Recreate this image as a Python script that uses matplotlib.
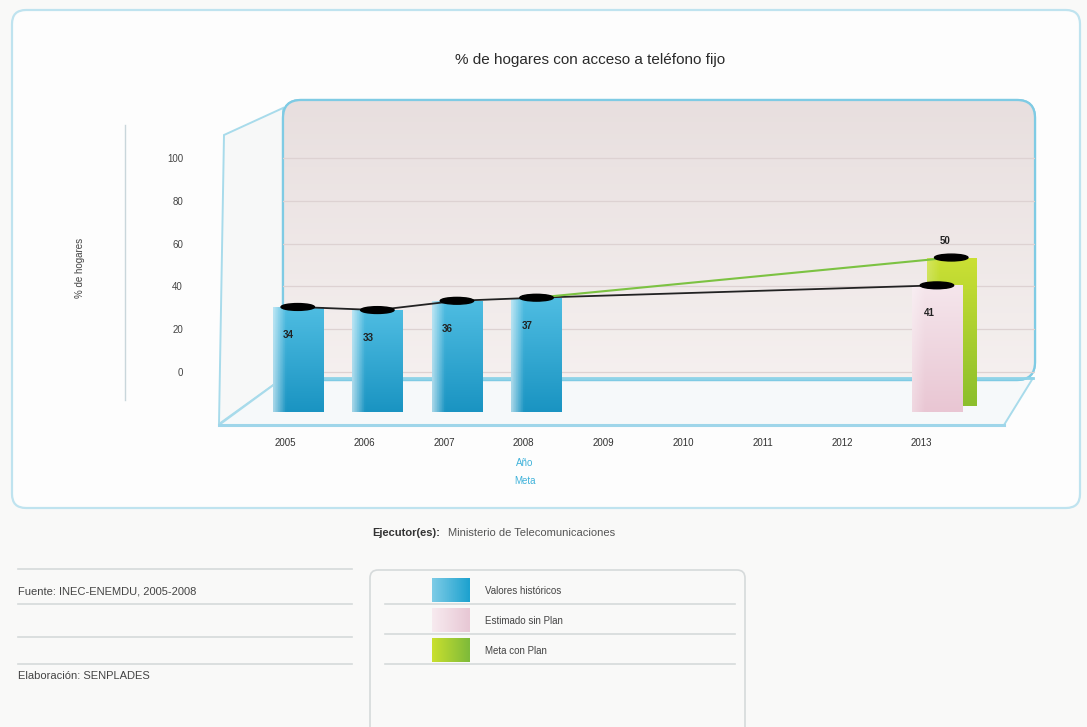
import numpy as np
import matplotlib.pyplot as plt
from matplotlib.patches import FancyBboxPatch, Polygon, Ellipse, Rectangle
from matplotlib.colors import to_rgb

plt.rcParams['font.family'] = ['Liberation Sans Narrow', 'Liberation Sans', 'DejaVu Sans']

# Datos
anios = ['2005', '2006', '2007', '2008', '2009', '2010', '2011', '2012', '2013']
historicos = [34, 33, 36, 37]
estimado_2013 = 41
meta_2013 = 50
ticks_pared = [0, 20, 40, 60, 80, 100]

W, H = 1087, 727
fig = plt.figure(figsize=(W / 100, H / 100), dpi=100)
fig.patch.set_facecolor('#f9f9f8')


def px_axes(x0, y0, x1, y1, z):
    ax = fig.add_axes([x0 / W, 1 - y1 / H, (x1 - x0) / W, (y1 - y0) / H])
    ax.set_zorder(z)
    ax.patch.set_alpha(0)
    return ax


def gradient_fill(ax, x0, x1, y0, y1, c_top, c_bot, clip, light=0.55, z=2):
    # y0 = base, y1 = tope
    n = 60
    top, bot = np.array(to_rgb(c_top)), np.array(to_rgb(c_bot))
    t = np.linspace(0, 1, n)[:, None, None]
    img = top * (1 - t) + bot * t
    img = np.repeat(img, 30, axis=1)
    # borde izquierdo mas claro (efecto 3D)
    f = np.clip(1 - np.linspace(0, 1, 30) / 0.25, 0, 1)[None, :, None] * light
    img = img * (1 - f) + f
    im = ax.imshow(img, extent=(x0, x1, y0, y1), origin='upper', aspect='auto', zorder=z)
    im.set_clip_path(clip)


# --- capa de fondo en pixeles ---
bg = fig.add_axes([0, 0, 1, 1])
bg.set_xlim(0, W)
bg.set_ylim(H, 0)
bg.axis('off')
bg.set_zorder(0)

panel = FancyBboxPatch((12, 10), 1068, 498, boxstyle='round,pad=0,rounding_size=14',
                       fc='#fdfdfd', ec='#bfe3ef', lw=1.6)
bg.add_patch(panel)

# pared lateral y piso
bg.add_patch(Polygon([(283, 108), (224, 135), (219, 424), (283, 378)], closed=True,
                     fc='#f7f8f8', ec='#a8dbeb', lw=1.4))
bg.add_patch(Polygon([(283, 378), (1033, 378), (1004, 425), (219, 425)], closed=True,
                     fc='#f6f9fa', ec='#a8dbeb', lw=1.4))
bg.plot([219, 1004], [425, 425], color='#9fd6ea', lw=2.2)

# pared del fondo
pared = FancyBboxPatch((283, 100), 752, 280, boxstyle='round,pad=0,rounding_size=18',
                       fc='#eee6e6', ec='#7fcbe4', lw=1.6)
bg.add_patch(pared)
grad = np.linspace(0, 1, 50)[:, None, None]
img = np.array(to_rgb('#e8dfdf')) * (1 - grad) + np.array(to_rgb('#f5f0ef')) * grad
im = bg.imshow(np.repeat(img, 2, axis=1), extent=(283, 1035, 380, 100), aspect='auto', zorder=1)
im.set_clip_path(pared)
bg.add_patch(FancyBboxPatch((283, 100), 752, 280, boxstyle='round,pad=0,rounding_size=18',
                            fc='none', ec='#7fcbe4', lw=1.6, zorder=2))
bg.plot([283, 1033], [378, 378], color='#8fd3e8', lw=2, zorder=2)

# linea vertical del eje y
bg.plot([125, 125], [125, 400], color='#c9d6db', lw=1)

bg.text(590, 60, '% de hogares con acceso a teléfono fijo', ha='center', va='center',
        fontsize=11, family=['Liberation Sans', 'DejaVu Sans'], color='#2a2a2a')
bg.text(80, 268, '% de hogares', rotation=90, ha='center', va='center', fontsize=7, color='#444444')
bg.text(525, 463, 'Año', ha='center', va='center', fontsize=7, color='#3fb2da')
bg.text(525, 481, 'Meta', ha='center', va='center', fontsize=7, color='#3fb2da')

# --- pared: escala del eje y ---
axw = px_axes(283, 100, 1035, 380, 1)
axw.set_ylim((372 - 380) / 2.14, (372 - 100) / 2.14)
axw.set_xlim(0, 1)
axw.set_yticks(ticks_pared)
axw.set_xticks([])
axw.tick_params(axis='y', length=0, pad=72, labelsize=7, labelcolor='#444444')
axw.yaxis.grid(True, color='#ddd2d2', lw=0.9)
for s in axw.spines.values():
    s.set_visible(False)

# --- barras ---
ax = px_axes(225, 100, 1030, 412, 2)
ax.set_ylim(0, 101)
ax.set_xlim((225 - 285) / 79.6, (1030 - 285) / 79.6)
for s in ax.spines.values():
    s.set_visible(False)
ax.set_yticks([])
ax.set_xticks(range(len(anios)))
ax.set_xticklabels(anios)
ax.tick_params(axis='x', length=0, pad=19, labelsize=7, labelcolor='#333333')

x_hist = np.arange(len(historicos)) + 0.16
x_est = 8.19
x_meta = 8.37
ancho = 0.63

# meta (detras)
bm = ax.bar([x_meta], [meta_2013 - 2], bottom=2, width=0.62, color='#a9cd2c', zorder=1)[0]
gradient_fill(ax, x_meta - 0.31, x_meta + 0.31, 2, meta_2013, '#cbe034', '#8cbf2c',
              bm, light=0.2, z=1)
bars = ax.bar(x_hist, historicos, width=ancho, color='#27a8d1', zorder=2)
for b, v in zip(bars, historicos):
    gradient_fill(ax, b.get_x(), b.get_x() + ancho, 0, v, '#4fbde2', '#1a94c2', b, light=0.6, z=2)
be = ax.bar([x_est], [estimado_2013], width=ancho, color='#efd3dd', zorder=3)[0]
gradient_fill(ax, x_est - ancho / 2, x_est + ancho / 2, 0, estimado_2013, '#f5e6ec', '#e9c6d3',
              be, light=0.3, z=3)

# lineas
ax.plot(list(x_hist) + [x_est], historicos + [estimado_2013], color='#222222', lw=1.3, zorder=4)
ax.plot([x_hist[-1], x_meta], [historicos[-1], meta_2013], color='#7cc242', lw=1.5, zorder=4)

# marcadores y etiquetas
for x, v in zip(list(x_hist) + [x_est, x_meta], historicos + [estimado_2013, meta_2013]):
    ax.add_patch(Ellipse((x, v), 0.42, 2.2, color='black', zorder=5))
for x, v in zip(x_hist, historicos):
    ax.text(x - 0.12, v - 9, str(v), ha='center', va='center', fontsize=7, weight='bold',
            color='#222222', zorder=6)
ax.text(x_est - 0.1, estimado_2013 - 9, str(estimado_2013), ha='center', va='center', fontsize=7,
        weight='bold', color='#222222', zorder=6)
ax.text(x_meta - 0.08, meta_2013 + 5.5, str(meta_2013), ha='center', va='center', fontsize=7,
        weight='bold', color='#222222', zorder=6)

# --- pie ---
bg.text(372, 533, 'Ejecutor(es):', ha='left', va='center', fontsize=8, weight='bold', color='#333333')
bg.text(448, 533, 'Ministerio de Telecomunicaciones', ha='left', va='center', fontsize=8,
        color='#555555')

for y in [569, 604, 637, 664]:
    bg.plot([18, 352], [y, y], color='#d6dadb', lw=1.2)
bg.text(18, 591, 'Fuente: INEC-ENEMDU, 2005-2008', ha='left', va='center', fontsize=8, color='#444444')
bg.text(18, 676, 'Elaboración: SENPLADES', ha='left', va='center', fontsize=8, color='#444444')

leyenda = FancyBboxPatch((370, 570), 375, 170, boxstyle='round,pad=0,rounding_size=8',
                         fc='none', ec='#d6dadb', lw=1.2)
bg.add_patch(leyenda)
items = [('Valores históricos', '#7ccbe6', '#1ea2cf'),
         ('Estimado sin Plan', '#f7eaef', '#e8c8d5'),
         ('Meta con Plan', '#c8df2e', '#7fbb3a')]
for i, (lab, c1, c2) in enumerate(items):
    y0 = 578 + i * 30
    r = Rectangle((432, y0), 38, 24, fc=c2, ec='none')
    bg.add_patch(r)
    g = np.linspace(0, 1, 20)[None, :, None]
    gi = np.array(to_rgb(c1)) * (1 - g) + np.array(to_rgb(c2)) * g
    imr = bg.imshow(np.repeat(gi, 5, axis=0), extent=(432, 470, y0 + 24, y0), aspect='auto', zorder=2)
    imr.set_clip_path(r)
    bg.text(485, y0 + 13, lab, ha='left', va='center', fontsize=7, color='#444444')
    bg.plot([385, 735], [y0 + 26, y0 + 26], color='#d6dadb', lw=1.2)

bg.set_xlim(0, W)
bg.set_ylim(H, 0)

fig.savefig('out.png', dpi=100, facecolor=fig.get_facecolor())
